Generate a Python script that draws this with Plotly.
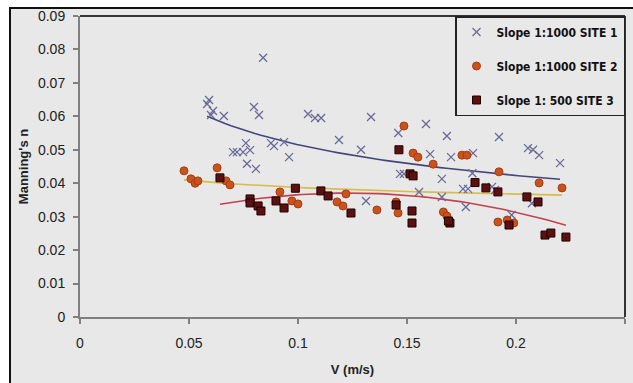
import numpy as np
import plotly.graph_objects as go

# ---------------- data ----------------
site1_v = [0.0592, 0.0583, 0.0610, 0.0601, 0.0660, 0.0702, 0.0720, 0.0748, 0.0780, 0.0761,
           0.0766, 0.0807, 0.0798, 0.0821, 0.0840, 0.0876, 0.0890, 0.0936, 0.0959, 0.1046,
           0.1078, 0.1106, 0.1188, 0.1289, 0.1335, 0.1312, 0.1460, 0.1468, 0.1486, 0.1555,
           0.1587, 0.1606, 0.1660, 0.1660, 0.1683, 0.1702, 0.1757, 0.1780, 0.1770, 0.1800,
           0.1803, 0.1890, 0.1904, 0.1922, 0.1980, 0.2055, 0.2078, 0.2106, 0.2073, 0.2202]
site1_n = [0.0649, 0.0637, 0.0616, 0.0604, 0.0601, 0.0493, 0.0493, 0.0493, 0.0499, 0.0520,
           0.0458, 0.0443, 0.0628, 0.0604, 0.0775, 0.0520, 0.0511, 0.0523, 0.0478, 0.0607,
           0.0595, 0.0595, 0.0529, 0.0500, 0.0598, 0.0347, 0.0550, 0.0428, 0.0428, 0.0374,
           0.0577, 0.0487, 0.0413, 0.0359, 0.0541, 0.0478, 0.0383, 0.0383, 0.0329, 0.0430,
           0.0490, 0.0389, 0.0380, 0.0538, 0.0305, 0.0505, 0.0500, 0.0484, 0.0340, 0.0460]

site2_v = [0.0477, 0.0509, 0.0528, 0.0541, 0.0629, 0.0670, 0.0688, 0.0917, 0.0972, 0.1000,
           0.1179, 0.1206, 0.1220, 0.1362, 0.1450, 0.1459, 0.1486, 0.1528, 0.1550, 0.1620,
           0.1752, 0.1775, 0.1922, 0.2106, 0.2211, 0.1667, 0.1683, 0.1917, 0.1960, 0.1990]
site2_n = [0.0437, 0.0413, 0.0400, 0.0407, 0.0446, 0.0407, 0.0395, 0.0374, 0.0347, 0.0338,
           0.0344, 0.0332, 0.0368, 0.0320, 0.0344, 0.0311, 0.0571, 0.0490, 0.0478, 0.0457,
           0.0484, 0.0484, 0.0434, 0.0401, 0.0386, 0.0314, 0.0302, 0.0284, 0.0290, 0.0281]

site3_v = [0.0642, 0.0780, 0.0780, 0.0817, 0.0830, 0.0899, 0.0936, 0.0988, 0.1105, 0.1138,
           0.1243, 0.1450, 0.1463, 0.1514, 0.1528, 0.1523, 0.1523, 0.1697, 0.1690, 0.1812,
           0.1862, 0.1917, 0.1968, 0.2050, 0.2101, 0.2133, 0.2160, 0.2229]
site3_n = [0.0416, 0.0353, 0.0341, 0.0332, 0.0317, 0.0347, 0.0326, 0.0385, 0.0377, 0.0362,
           0.0311, 0.0335, 0.0500, 0.0428, 0.0422, 0.0317, 0.0281, 0.0281, 0.0287, 0.0402,
           0.0386, 0.0374, 0.0275, 0.0359, 0.0344, 0.0245, 0.0251, 0.0239]

series_names = ["Slope 1:1000 SITE 1", "Slope 1:1000 SITE 2", "Slope 1: 500 SITE 3"]
x_ticks = [0, 0.05, 0.1, 0.15, 0.2, 0.25]
y_ticks = [0, 0.01, 0.02, 0.03, 0.04, 0.05, 0.06, 0.07, 0.08, 0.09]

# ---------------- trend lines (fitted to the data) ----------------
def power_fit(v, n):
    v = np.asarray(v); n = np.asarray(n)
    b, ln_a = np.polyfit(np.log(v), np.log(n), 1)
    xs = np.linspace(v.min(), v.max(), 60)
    return xs, np.exp(ln_a) * xs ** b

def poly_fit(v, n, deg=2):
    v = np.asarray(v); n = np.asarray(n)
    c = np.polyfit(v, n, deg)
    xs = np.linspace(v.min(), v.max(), 60)
    return xs, np.polyval(c, xs)

t1x, t1y = power_fit(site1_v, site1_n)
t2x, t2y = power_fit(site2_v, site2_n)
t3x, t3y = poly_fit(site3_v, site3_n)

BG = "#e8e8e8"
fig = go.Figure()

fig.add_trace(go.Scatter(x=t1x, y=t1y, mode="lines", line=dict(color="#45457e", width=1.6),
                         showlegend=False, hoverinfo="skip"))
fig.add_trace(go.Scatter(x=t2x, y=t2y, mode="lines", line=dict(color="#d8bc4c", width=1.6),
                         showlegend=False, hoverinfo="skip"))
fig.add_trace(go.Scatter(x=t3x, y=t3y, mode="lines", line=dict(color="#c4404c", width=1.6),
                         showlegend=False, hoverinfo="skip"))

fig.add_trace(go.Scatter(x=site1_v, y=site1_n, mode="markers", name=series_names[0],
                         legendgroup="a",
                         marker=dict(symbol="x-thin", size=8, line=dict(color="#6a6a98", width=1.3))))
fig.add_trace(go.Scatter(x=site2_v, y=site2_n, mode="markers", name=series_names[1],
                         legendgroup="b",
                         marker=dict(symbol="circle", size=8, color="#c9531c",
                                     line=dict(color="#a83c12", width=1))))
fig.add_trace(go.Scatter(x=site3_v, y=site3_n, mode="markers", name=series_names[2],
                         legendgroup="c",
                         marker=dict(symbol="square", size=8, color="#5c1010",
                                     line=dict(color="#200000", width=1))))

L, R, T, B = 80, 8, 16, 66
W, H = 633, 383
pw, ph = W - L - R, H - T - B
def px_x(px):
    return (px - L) / pw
def px_y(py):
    return (H - B - py) / ph

shapes = [
    dict(type="rect", xref="paper", yref="paper", x0=px_x(10), x1=px_x(660), y0=px_y(400), y1=px_y(8),
         fillcolor=BG, line=dict(color="#111111", width=2), layer="below"),
    dict(type="line", xref="paper", yref="paper", x0=0, x1=1, y0=1, y1=1,
         line=dict(color="#333333", width=2)),
    dict(type="line", xref="paper", yref="paper", x0=1, x1=1, y0=0, y1=1,
         line=dict(color="#333333", width=2)),
]

fig.update_layout(
    width=W, height=H,
    margin=dict(l=L, r=R, t=T, b=B),
    paper_bgcolor="white",
    plot_bgcolor=BG,
    shapes=shapes,
    font=dict(family="Liberation Sans, Arial, sans-serif", color="#222222", size=14),
    xaxis=dict(range=[0, 0.25], tickvals=x_ticks, ticktext=[f"{v:g}" for v in x_ticks],
               showgrid=False, zeroline=False, showline=True, linecolor="#808080", linewidth=2,
               ticks="outside", ticklen=5, tickcolor="#808080", tickwidth=1.5,
               tickfont=dict(size=14), ticklabelstandoff=7,
               title=dict(text="<b>V (m/s)</b>", font=dict(size=13), standoff=15)),
    yaxis=dict(range=[0, 0.09], tickvals=y_ticks, ticktext=[f"{v:g}" for v in y_ticks],
               showgrid=False, zeroline=False, showline=True, linecolor="#808080", linewidth=2,
               ticks="outside", ticklen=5, tickcolor="#808080", tickwidth=1.5,
               tickfont=dict(size=14), ticklabelstandoff=5,
               title=dict(text="<b>Manning's n</b>", font=dict(size=13), standoff=6)),
    legend=dict(x=1, xanchor="right", y=1, yanchor="top",
                bgcolor=BG, bordercolor="#222222", borderwidth=1.5,
                font=dict(family="Liberation Sans Narrow, DejaVu Sans Condensed, sans-serif",
                          size=12, color="#111111", weight="bold"),
                tracegroupgap=15, itemwidth=30),
)

fig.write_html("out.html")
